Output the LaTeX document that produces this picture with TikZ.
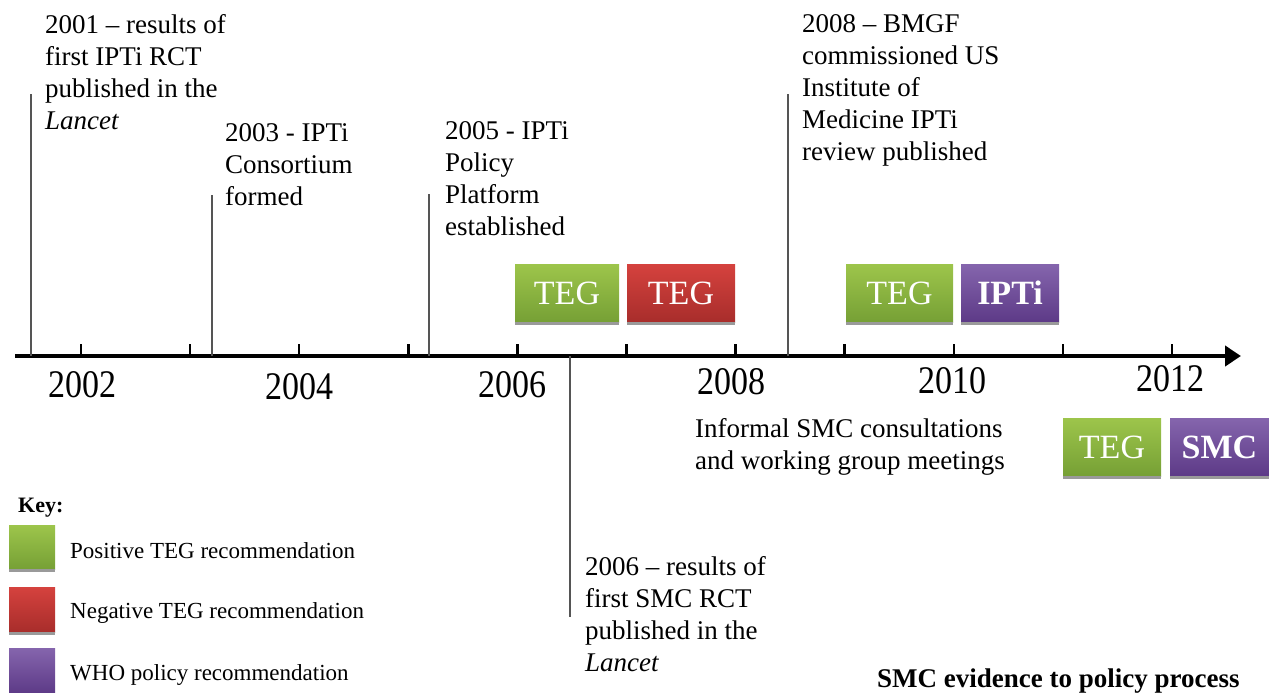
\documentclass[tikz,border=0pt]{standalone}
\usepackage{fontspec}
\setmainfont{Liberation Serif}
\usetikzlibrary{arrows.meta}
\definecolor{gtop}{HTML}{9DC54B}
\definecolor{gbot}{HTML}{76A035}
\definecolor{rtop}{HTML}{D5423E}
\definecolor{rbot}{HTML}{A82D2B}
\definecolor{ptop}{HTML}{8565AD}
\definecolor{pbot}{HTML}{5D3A87}
\definecolor{shade}{HTML}{9A9A9A}
\definecolor{leadcol}{HTML}{555555}
\newcommand{\yrlabel}[1]{\scalebox{1}[1.15]{#1}}
\tikzset{
  note/.style={anchor=north west, inner sep=0pt, align=left, font=\fontsize{27}{32}\selectfont},
  year/.style={anchor=base, inner sep=0pt, font=\fontsize{34}{36}\selectfont},
  box/.style={inner sep=0pt, text=white, font=\fontsize{34}{36}\selectfont},
  greenbox/.style={box, top color=gtop, bottom color=gbot},
  redbox/.style={box, top color=rtop, bottom color=rbot},
  purplebox/.style={box, top color=ptop, bottom color=pbot, font=\fontsize{34}{36}\selectfont\bfseries},
  shadowline/.style={draw=shade, line width=3pt},
  leader/.style={draw=leadcol, line width=1.2pt},
  axisline/.style={draw=black, line width=4pt, -{Triangle[length=16pt,width=20pt]}},
  tickline/.style={draw=black, line width=2.5pt},
  keylabel/.style={anchor=base west, inner sep=0pt, font=\fontsize{23}{26}\selectfont},
}
\begin{document}
\begin{tikzpicture}[x=1pt,y=-1pt]
\useasboundingbox (0,0) rectangle (1269,693);

% axis
\coordinate (axs) at (15,356);
\coordinate (axe) at (1241,356);
\draw[axisline] (axs) -- (axe);
\foreach \i in {0,...,10}{
  \draw[tickline] ({81+109.1*\i},344) -- ({81+109.1*\i},356);
}

% year labels
\node[year] (y2002) at (82,397) {\yrlabel{2002}};
\node[year] (y2004) at (299,399) {\yrlabel{2004}};
\node[year] (y2006) at (512,397) {\yrlabel{2006}};
\node[year] (y2008) at (731,394) {\yrlabel{2008}};
\node[year] (y2010) at (952,393) {\yrlabel{2010}};
\node[year] (y2012) at (1170,391) {\yrlabel{2012}};

% leader lines
\coordinate (l1t) at (31,94);   \coordinate (l1b) at (31,356);
\coordinate (l2t) at (212,195); \coordinate (l2b) at (212,356);
\coordinate (l3t) at (429,194); \coordinate (l3b) at (429,356);
\coordinate (l4t) at (788,94);  \coordinate (l4b) at (788,356);
\coordinate (l5t) at (570,356); \coordinate (l5b) at (570,617);
\draw[leader] (l1t) -- (l1b);
\draw[leader] (l2t) -- (l2b);
\draw[leader] (l3t) -- (l3b);
\draw[leader] (l4t) -- (l4b);
\draw[leader] (l5t) -- (l5b);

% event texts
\node[note] (e2001) at (45,14.6) {2001 – results of\\first IPTi RCT\\published in the\\\textit{Lancet}};
\node[note] (e2003) at (225,123.6) {2003 - IPTi\\Consortium\\formed};
\node[note] (e2005) at (445,121.6) {2005 - IPTi\\Policy\\Platform\\established};
\node[note] (e2008) at (802,14.7) {2008 – BMGF\\commissioned US\\Institute of\\Medicine IPTi\\review published};
\node[note] (e2006) at (585,556.6) {2006 – results of\\first SMC RCT\\published in the\\\textit{Lancet}};
\node[note] (infor) at (695,418.6) {Informal SMC consultations\\and working group meetings};

% boxes
\node[greenbox, minimum width=104pt, minimum height=58pt] (b1) at (567,293) {TEG};
\node[redbox, minimum width=108pt, minimum height=58pt] (b2) at (681,293) {TEG};
\node[greenbox, minimum width=107pt, minimum height=58pt] (b3) at (899.5,293) {TEG};
\node[purplebox, minimum width=98pt, minimum height=58pt] (b4) at (1010,293) {IPTi};
\node[greenbox, minimum width=98pt, minimum height=58pt] (b5) at (1112,447) {TEG};
\node[purplebox, minimum width=99pt, minimum height=58pt] (b6) at (1219.5,447) {SMC};
\foreach \b in {b1,b2,b3,b4,b5,b6}{
  \draw[shadowline] ([yshift=-1.5pt]\b.south west) -- ([yshift=-1.5pt]\b.south east);
}

% key
\node[anchor=base west, inner sep=0pt, font=\fontsize{22}{24}\selectfont\bfseries] (keyt) at (18,512) {Key:};
\node[greenbox, minimum width=46pt, minimum height=44pt] (k1) at (32,547) {};
\node[redbox, minimum width=46pt, minimum height=45pt] (k2) at (32,609.5) {};
\node[purplebox, minimum width=46pt, minimum height=45pt] (k3) at (32,670.5) {};
\draw[shadowline] ([yshift=-1.5pt]k1.south west) -- ([yshift=-1.5pt]k1.south east);
\draw[shadowline] ([yshift=-1.5pt]k2.south west) -- ([yshift=-1.5pt]k2.south east);
\node[keylabel] (kl1) at (70,558) {Positive TEG recommendation};
\node[keylabel] (kl2) at (70,618) {Negative TEG recommendation};
\node[keylabel] (kl3) at (70,680) {WHO policy recommendation};

% title
\node[anchor=base west, inner sep=0pt, font=\fontsize{27}{30}\selectfont\bfseries] (title) at (877,687) {SMC evidence to policy process};
\end{tikzpicture}
\end{document}
